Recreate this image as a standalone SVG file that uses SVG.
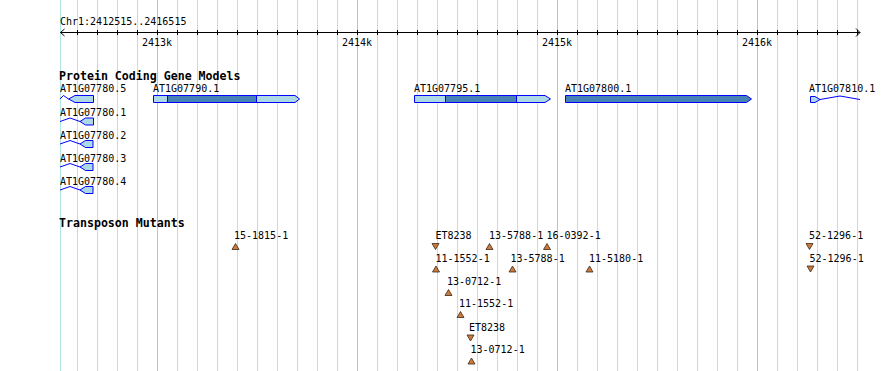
<svg xmlns="http://www.w3.org/2000/svg" width="890" height="371" viewBox="0 0 890 371">
<style>
.t{font-family:"DejaVu Sans Mono","Liberation Mono",monospace;font-size:10px;fill:#000}
.b{font-family:"DejaVu Sans Mono","Liberation Mono",monospace;font-size:11.6px;font-weight:bold;fill:#000}
.g{stroke:#b0e6e6;stroke-width:1}
.gm{stroke:#a3c8ee;stroke-width:1}
.tk{stroke:#000;stroke-width:1}
.lt{fill:#add8e6;stroke:#0000ff;stroke-width:1}
.dk{fill:#4682b4;stroke:#0000ff;stroke-width:1}
.in{fill:none;stroke:#0000ff;stroke-width:1}
.up,.dn{fill:#cd7a3a;stroke:#3a2a1a;stroke-width:0.8}
</style>
<rect width="890" height="371" fill="#fff"/>
<g id="grid">
<line class="g" x1="60.5" y1="0" x2="60.5" y2="371"/>
<line class="g" x1="77.5" y1="0" x2="77.5" y2="371"/>
<line class="g" x1="97.5" y1="0" x2="97.5" y2="371"/>
<line class="g" x1="117.5" y1="0" x2="117.5" y2="371"/>
<line class="g" x1="137.5" y1="0" x2="137.5" y2="371"/>
<line class="gm" x1="157.5" y1="0" x2="157.5" y2="371"/>
<line class="g" x1="177.5" y1="0" x2="177.5" y2="371"/>
<line class="g" x1="197.5" y1="0" x2="197.5" y2="371"/>
<line class="g" x1="217.5" y1="0" x2="217.5" y2="371"/>
<line class="g" x1="237.5" y1="0" x2="237.5" y2="371"/>
<line class="g" x1="257.5" y1="0" x2="257.5" y2="371"/>
<line class="g" x1="277.5" y1="0" x2="277.5" y2="371"/>
<line class="g" x1="297.5" y1="0" x2="297.5" y2="371"/>
<line class="g" x1="317.5" y1="0" x2="317.5" y2="371"/>
<line class="g" x1="337.5" y1="0" x2="337.5" y2="371"/>
<line class="gm" x1="357.5" y1="0" x2="357.5" y2="371"/>
<line class="g" x1="377.5" y1="0" x2="377.5" y2="371"/>
<line class="g" x1="397.5" y1="0" x2="397.5" y2="371"/>
<line class="g" x1="417.5" y1="0" x2="417.5" y2="371"/>
<line class="g" x1="437.5" y1="0" x2="437.5" y2="371"/>
<line class="g" x1="457.5" y1="0" x2="457.5" y2="371"/>
<line class="g" x1="477.5" y1="0" x2="477.5" y2="371"/>
<line class="g" x1="497.5" y1="0" x2="497.5" y2="371"/>
<line class="g" x1="517.5" y1="0" x2="517.5" y2="371"/>
<line class="g" x1="537.5" y1="0" x2="537.5" y2="371"/>
<line class="gm" x1="557.5" y1="0" x2="557.5" y2="371"/>
<line class="g" x1="577.5" y1="0" x2="577.5" y2="371"/>
<line class="g" x1="597.5" y1="0" x2="597.5" y2="371"/>
<line class="g" x1="617.5" y1="0" x2="617.5" y2="371"/>
<line class="g" x1="637.5" y1="0" x2="637.5" y2="371"/>
<line class="g" x1="657.5" y1="0" x2="657.5" y2="371"/>
<line class="g" x1="677.5" y1="0" x2="677.5" y2="371"/>
<line class="g" x1="697.5" y1="0" x2="697.5" y2="371"/>
<line class="g" x1="717.5" y1="0" x2="717.5" y2="371"/>
<line class="g" x1="737.5" y1="0" x2="737.5" y2="371"/>
<line class="gm" x1="757.5" y1="0" x2="757.5" y2="371"/>
<line class="g" x1="777.5" y1="0" x2="777.5" y2="371"/>
<line class="g" x1="797.5" y1="0" x2="797.5" y2="371"/>
<line class="g" x1="817.5" y1="0" x2="817.5" y2="371"/>
<line class="g" x1="837.5" y1="0" x2="837.5" y2="371"/>
<line class="g" x1="857.5" y1="0" x2="857.5" y2="371"/>
</g>
<g id="ruler">
<text class="t" x="60" y="24.5">Chr1:2412515..2416515</text>
<line class="tk" x1="60.5" y1="32.5" x2="860" y2="32.5"/>
<polyline class="tk" fill="none" points="64.5,29 60.5,32.5 64.5,36"/>
<polyline class="tk" fill="none" points="856,28.5 860,32.5 856,36.5"/>
<path class="tk" d="M77.5 30v5M97.5 30v5M117.5 30v5M137.5 30v5M157.5 30v5M177.5 30v5M197.5 30v5M217.5 30v5M237.5 30v5M257.5 30v5M277.5 30v5M297.5 30v5M317.5 30v5M337.5 30v5M357.5 30v5M377.5 30v5M397.5 30v5M417.5 30v5M437.5 30v5M457.5 30v5M477.5 30v5M497.5 30v5M517.5 30v5M537.5 30v5M557.5 30v5M577.5 30v5M597.5 30v5M617.5 30v5M637.5 30v5M657.5 30v5M677.5 30v5M697.5 30v5M717.5 30v5M737.5 30v5M757.5 30v5M777.5 30v5M797.5 30v5M817.5 30v5M837.5 30v5M857.5 30v5"/>
<text class="t" x="157" y="45.5" text-anchor="middle">2413k</text>
<text class="t" x="357" y="45.5" text-anchor="middle">2414k</text>
<text class="t" x="557" y="45.5" text-anchor="middle">2415k</text>
<text class="t" x="757" y="45.5" text-anchor="middle">2416k</text>
</g>
<g id="genes-title"><text class="b" x="59" y="80">Protein Coding Gene Models</text></g>
<g id="AT1G07780.5">
<text class="t" x="60" y="92">AT1G07780.5</text>
<polyline class="in" points="60,99 63.5,95.5 68.5,99"/>
<polygon class="lt" points="68.5,99 75,95.5 93.5,95.5 93.5,102.5 75,102.5"/>
</g>
<g id="AT1G07780.1">
<text class="t" x="60" y="115.5">AT1G07780.1</text>
<polyline class="in" points="60,121.5 70,118 80,121.5"/>
<polygon class="lt" points="80,121.5 85.5,118 93.5,118 93.5,125 85.5,125"/>
</g>
<g id="AT1G07780.2">
<text class="t" x="60" y="138.5">AT1G07780.2</text>
<polyline class="in" points="60,144 70,140.5 80,144"/>
<polygon class="lt" points="80,144 85.5,140.5 93,140.5 93,147.5 85.5,147.5"/>
</g>
<g id="AT1G07780.3">
<text class="t" x="60" y="161.5">AT1G07780.3</text>
<polyline class="in" points="60,167 70,163.5 80,167"/>
<polygon class="lt" points="80,167 85.5,163.5 93,163.5 93,170.5 85.5,170.5"/>
</g>
<g id="AT1G07780.4">
<text class="t" x="60" y="184.5">AT1G07780.4</text>
<polyline class="in" points="60,190 70,186.5 80,190"/>
<polygon class="lt" points="80,190 85.5,186.5 93,186.5 93,193.5 85.5,193.5"/>
</g>
<g id="AT1G07790.1">
<text class="t" x="153" y="92">AT1G07790.1</text>
<polygon class="lt" points="153.5,95.5 295,95.5 299.5,99 295,102.5 153.5,102.5"/>
<rect class="dk" x="167.5" y="95.5" width="89" height="7"/>
</g>
<g id="AT1G07795.1">
<text class="t" x="414" y="92">AT1G07795.1</text>
<polygon class="lt" points="414.5,95.5 545,95.5 550.5,99 545,102.5 414.5,102.5"/>
<rect class="dk" x="445.5" y="95.5" width="71" height="7"/>
</g>
<g id="AT1G07800.1">
<text class="t" x="565" y="92">AT1G07800.1</text>
<polygon class="dk" points="565.5,95.5 746.5,95.5 751.5,99 746.5,102.5 565.5,102.5"/>
</g>
<g id="AT1G07810.1">
<text class="t" x="809" y="92">AT1G07810.1</text>
<polyline class="in" points="820,99.5 840,96 860,99.5"/>
<polygon class="lt" points="810.5,96.5 815,96.5 820,99.5 815,102.5 810.5,102.5"/>
</g>
<g id="tn-title"><text class="b" x="59" y="227">Transposon Mutants</text></g>
<g id="t1"><text class="t" x="234" y="239">15-1815-1</text><polygon class="up" points="235.5,243.5 239,249.5 232,249.5"/></g>
<g id="t2"><text class="t" x="435.5" y="239">ET8238</text><polygon class="dn" points="432,243.5 439,243.5 435.5,249.5"/></g>
<g id="t3"><text class="t" x="489" y="239">13-5788-1</text><polygon class="up" points="489.5,243.5 493,249.5 486,249.5"/></g>
<g id="t4"><text class="t" x="546.5" y="239">16-0392-1</text><polygon class="up" points="547,243.5 550.5,249.5 543.5,249.5"/></g>
<g id="t5"><text class="t" x="809" y="239">52-1296-1</text><polygon class="dn" points="806,243.5 813,243.5 809.5,249.5"/></g>
<g id="t6"><text class="t" x="435.5" y="261.5">11-1552-1</text><polygon class="up" points="436,266 439.5,272 432.5,272"/></g>
<g id="t7"><text class="t" x="510.5" y="261.5">13-5788-1</text><polygon class="up" points="512.5,266 516,272 509,272"/></g>
<g id="t8"><text class="t" x="589" y="261.5">11-5180-1</text><polygon class="up" points="589.5,266 593,272 586,272"/></g>
<g id="t9"><text class="t" x="809.5" y="261.5">52-1296-1</text><polygon class="dn" points="807,266 814,266 810.5,272"/></g>
<g id="t10"><text class="t" x="447" y="284.5">13-0712-1</text><polygon class="up" points="448.5,289.5 452,295.5 445,295.5"/></g>
<g id="t11"><text class="t" x="459" y="307">11-1552-1</text><polygon class="up" points="460.5,311.5 464,317.5 457,317.5"/></g>
<g id="t12"><text class="t" x="469" y="330.5">ET8238</text><polygon class="dn" points="467,335 474,335 470.5,341"/></g>
<g id="t13"><text class="t" x="470.5" y="353">13-0712-1</text><polygon class="up" points="471.5,358 475,364 468,364"/></g>
<g id="connectors"/>
</svg>
